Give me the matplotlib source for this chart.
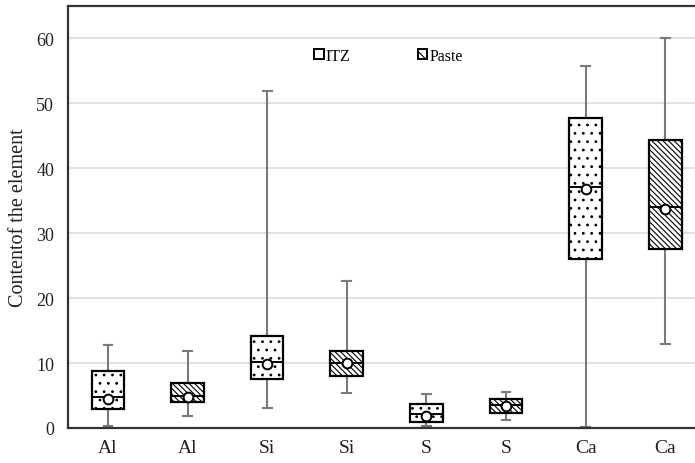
import matplotlib
matplotlib.use("Agg")
import matplotlib.pyplot as plt
from matplotlib.patches import Patch

plt.rcParams["font.family"] = ["Liberation Serif", "DejaVu Serif"]
plt.rcParams["hatch.linewidth"] = 0.8

# data
labels = ["Al", "Al", "Si", "Si", "S", "S", "Ca", "Ca"]
groups = ["ITZ", "Paste", "ITZ", "Paste", "ITZ", "Paste", "ITZ", "Paste"]
whislo = [0.3, 1.8, 3.0, 5.4, 0.3, 1.3, 0.1, 13.0]
q1 = [2.9, 4.0, 7.6, 8.0, 0.9, 2.3, 26.0, 27.5]
med = [4.7, 4.9, 10.1, 10.0, 2.2, 3.6, 37.1, 34.0]
mean = [4.4, 4.7, 9.9, 10.0, 1.9, 3.4, 36.8, 33.7]
q3 = [8.7, 6.9, 14.1, 11.8, 3.7, 4.5, 47.7, 44.3]
whishi = [12.8, 11.8, 51.9, 22.6, 5.2, 5.5, 55.8, 60.0]

hatches = {"ITZ": "..", "Paste": "\\" * 6}

stats = []
for i in range(len(labels)):
    stats.append(dict(label=labels[i], whislo=whislo[i], q1=q1[i], med=med[i],
                      mean=mean[i], q3=q3[i], whishi=whishi[i], fliers=[]))

fig = plt.figure(figsize=(6.95, 4.64), dpi=100)
ax = fig.add_axes([0.098, 0.0755, 0.9165, 0.9095])

bp = ax.bxp(stats, positions=range(len(labels)), widths=0.41, capwidths=0.11,
            showmeans=True, patch_artist=True,
            boxprops=dict(facecolor="white", edgecolor="black", linewidth=1.6),
            medianprops=dict(color="black", linewidth=1.4),
            whiskerprops=dict(color="#7a7a7a", linewidth=1.5),
            capprops=dict(color="#7a7a7a", linewidth=1.5),
            meanprops=dict(marker="o", markerfacecolor="white", markeredgecolor="black",
                           markersize=7, markeredgewidth=1.4))
for box, g in zip(bp["boxes"], groups):
    box.set_hatch(hatches[g])
for w in bp["whiskers"]:
    w.set_zorder(1)

ax.set_xlim(-0.5, 7.5)
ax.set_ylim(0, 65)
ax.set_yticks(range(0, 70, 10))
ax.yaxis.grid(True, color="#dcdcdc", linewidth=1.2)
ax.set_axisbelow(True)
ax.tick_params(length=0, colors="#222222")
ax.tick_params(axis="x", labelsize=14, pad=8)
ax.tick_params(axis="y", labelsize=13, pad=10)
for s in ["top", "left", "bottom", "right"]:
    ax.spines[s].set_color("#333333")
    ax.spines[s].set_linewidth(1.6)
ax.set_ylabel("Contentof the element", fontsize=14.5, color="#222222", labelpad=6)

handles = [Patch(facecolor="white", edgecolor="black", linewidth=1.4, hatch=""),
           Patch(facecolor="white", edgecolor="black", linewidth=1.4, hatch="\\\\\\")]
ax.legend(handles, ["ITZ", "Paste"], loc="center", bbox_to_anchor=(0.503, 0.882),
          ncol=2, frameon=False, fontsize=11.5, handlelength=0.6, handleheight=0.6,
          handletextpad=0.12, columnspacing=4.2)

fig.savefig("out.png", dpi=100)
